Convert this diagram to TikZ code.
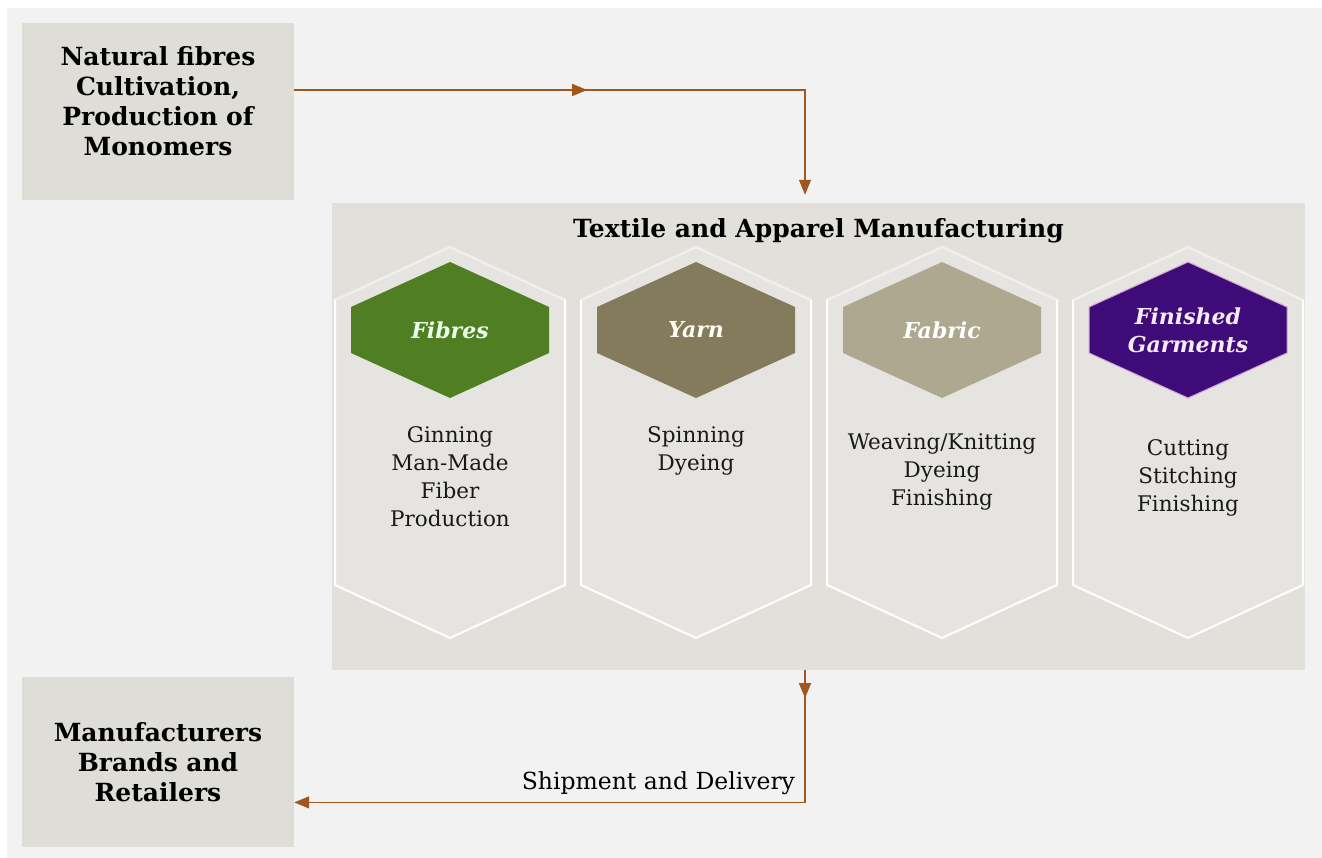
\documentclass[tikz,border=0pt]{standalone}
\usepackage{fontspec}
\setmainfont{DejaVu Serif}
\usetikzlibrary{positioning, arrows.meta, decorations.markings}

\definecolor{pagegrey}{HTML}{F2F2F2}
\definecolor{boxgrey}{HTML}{DFDDD8}
\definecolor{panelgrey}{HTML}{E2E0DB}
\definecolor{colgrey}{HTML}{E6E4E0}
\definecolor{fibregreen}{HTML}{4F7F22}
\definecolor{yarnbrown}{HTML}{847A5C}
\definecolor{fabrictaupe}{HTML}{AFA890}
\definecolor{garmentpurple}{HTML}{3E0B78}
\definecolor{flowbrown}{HTML}{A0571F}

\begin{document}
\begin{tikzpicture}[
    x=1pt, y=-1pt, % pixel grid, y runs downwards
    sidebox/.style={rectangle, fill=boxgrey, minimum width=272pt, text width=262pt, align=center, font=\bfseries\fontsize{25}{30}\selectfont},
    panel/.style={rectangle, fill=panelgrey, minimum width=973pt, minimum height=467pt},
    heading/.style={font=\bfseries\fontsize{25}{30}\selectfont},
    column/.style={fill=colgrey, draw=white, draw opacity=0.45, line width=2.5pt},
    rim/.style={draw=white, line width=1.6pt},
    colpath/.style={insert path={++(0,-83) -- ++(115,53) -- ++(0,285) -- ++(-115,53) -- ++(-115,-53) -- ++(0,-285) -- cycle}},
    rimpath/.style={insert path={++(-115,-30) -- ++(0,285) -- ++(115,53) -- ++(115,-53) -- ++(0,-285)}},
    hexpath/.style={insert path={++(0,-68) -- ++(99,45) -- ++(0,46) -- ++(-99,45) -- ++(-99,-45) -- ++(0,-46) -- cycle}},
    stagelabel/.style={align=center, font=\bfseries\itshape\fontsize{22}{28}\selectfont},
    steps/.style={align=center, font=\fontsize{21.5}{28}\selectfont, text=black!90},
    flow/.style={draw=flowbrown, line width=1.3pt, -{Triangle[length=15pt, width=12pt]}},
    midarrow/.style={postaction={decorate}, decoration={markings, mark=at position #1 with {\arrow{Triangle[length=15pt, width=12pt]}}}}
    ]

    % page
    \useasboundingbox (0,0) rectangle (1322,858);
    \fill[white] (0,0) rectangle (1322,858);
    \fill[pagegrey] (7,8) rectangle (1322,858);

    % Side boxes
    \node [sidebox, minimum height=177pt] (natural) at (158,111.5) {Natural fibres\\Cultivation,\\Production of\\Monomers\\[-10pt]\mbox{}};
    \node [sidebox, minimum height=170pt, below=477pt of natural] (retail) {Manufacturers\\Brands and\\Retailers};

    % Manufacturing panel
    \node [panel] (mfg) at (818.5,436.5) {};
    \node [heading, below=12pt of mfg.north] (mfgtitle) {Textile and Apparel Manufacturing};

    % stage centres
    \coordinate (s1) at (450,330);
    \coordinate (s2) at (696,330);
    \coordinate (s3) at (942,330);
    \coordinate (s4) at (1188,330);

    % Columns and coloured hexagons
    \path [column] (s1) [colpath];
    \path [column] (s2) [colpath];
    \path [column] (s3) [colpath];
    \path [column] (s4) [colpath];
    \path [rim] (s1) [rimpath];
    \path [rim] (s2) [rimpath];
    \path [rim] (s3) [rimpath];
    \path [rim] (s4) [rimpath];
    \fill [fibregreen] (s1) [hexpath];
    \fill [yarnbrown] (s2) [hexpath];
    \fill [fabrictaupe] (s3) [hexpath];
    \filldraw [fill=garmentpurple, draw=violet!35, line width=1pt] (s4) [hexpath];

    \node [stagelabel, text=green!8] (fibres) at (s1) {Fibres};
    \node [stagelabel, text=yellow!5] (yarn) at (s2) {Yarn};
    \node [stagelabel, text=white] (fabric) at (s3) {Fabric};
    \node [stagelabel, text=violet!8] (garments) at (s4) {Finished\\Garments};

    \node [steps, below=93pt of fibres.center] (fibresteps) {Ginning\\Man-Made\\Fiber\\Production};
    \node [steps, below=93pt of yarn.center] (yarnsteps) {Spinning\\Dyeing};
    \node [steps, below=100pt of fabric.center] (fabricsteps) {Weaving/Knitting\\Dyeing\\Finishing};
    \node [steps, below=106pt of garments.center] (garmentsteps) {Cutting\\Stitching\\Finishing};

    % Flows
    \path [flow, midarrow=293pt, shorten >=8pt] ([yshift=21.5pt]natural.east) -| ([xshift=-13.5pt]mfg.north);
    \path [flow, midarrow=28pt] ([xshift=-13.5pt]mfg.south) |- node [pos=0.5, above left, xshift=-6pt, yshift=4pt, font=\fontsize{23.5}{28}\selectfont] {Shipment and Delivery} ([yshift=-40pt]retail.east);

\end{tikzpicture}
\end{document}
